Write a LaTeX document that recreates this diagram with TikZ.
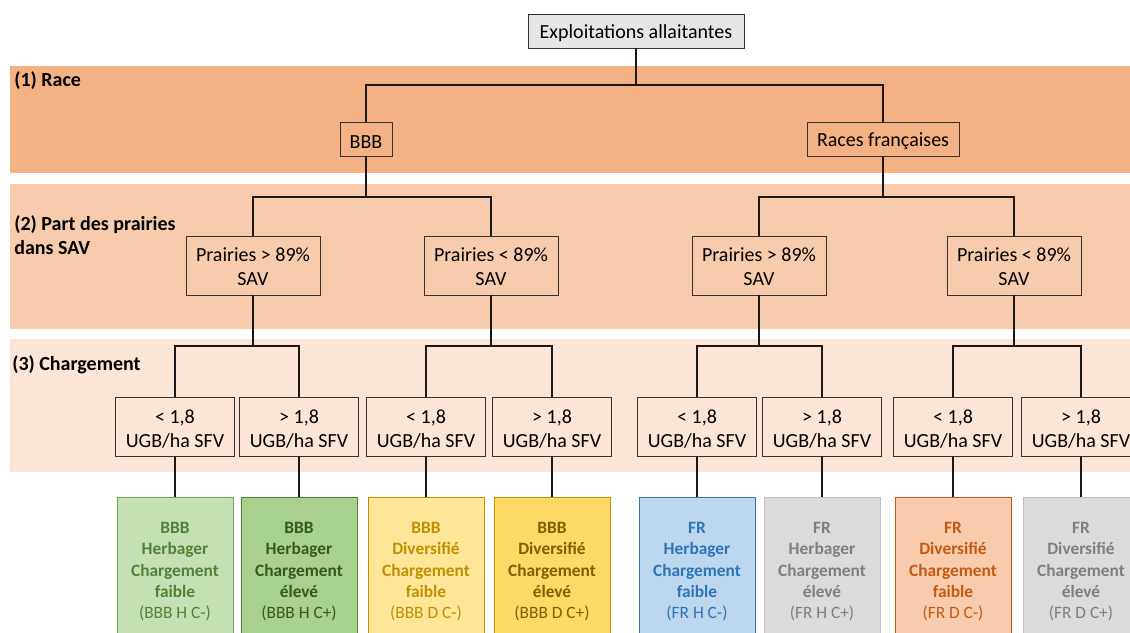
\documentclass[tikz,border=0pt]{standalone}
\usepackage{fontspec}
\setmainfont{Carlito}
\usetikzlibrary{positioning}
\definecolor{bandrace}{HTML}{F4B183}
\definecolor{bandprai}{HTML}{F8CBAD}
\definecolor{bandchg}{HTML}{FBE5D6}
\definecolor{rootfill}{HTML}{E7E6E6}
\definecolor{edgeink}{RGB}{50,50,50}
\definecolor{bhffill}{HTML}{C5E0B4}
\definecolor{bhfedge}{HTML}{70AD47}
\definecolor{bhftext}{HTML}{548235}
\definecolor{bhefill}{HTML}{A9D18E}
\definecolor{bheedge}{HTML}{548235}
\definecolor{bhetext}{HTML}{385723}
\definecolor{bdffill}{HTML}{FFE699}
\definecolor{bdfedge}{HTML}{BF9000}
\definecolor{bdftext}{HTML}{BF9000}
\definecolor{bdefill}{HTML}{FFD966}
\definecolor{bdeedge}{HTML}{BF9000}
\definecolor{bdetext}{HTML}{7F6000}
\definecolor{fhffill}{HTML}{BDD7EE}
\definecolor{fhfedge}{HTML}{2E75B6}
\definecolor{fhftext}{HTML}{2E75B6}
\definecolor{grayfill}{HTML}{DBDBDB}
\definecolor{grayedge}{HTML}{BFBFBF}
\definecolor{graytext}{HTML}{7F7F7F}
\definecolor{fdffill}{HTML}{F8CBAD}
\definecolor{fdfedge}{HTML}{C55A11}
\definecolor{fdftext}{HTML}{C55A11}
\newcommand\toplift[1]{\rule{0pt}{#1}}
\tikzset{
  lvbox/.style={
    draw=edgeink, line width=0.6pt, align=center, inner sep=0pt,
    font=\fontsize{15}{18}\selectfont
  },
  root/.style={lvbox, fill=rootfill, minimum width=162pt, minimum height=25.5pt,
    execute at begin node={\toplift{0.9em}}},
  race/.style={lvbox, minimum height=25.5pt, execute at begin node={\toplift{0.9em}}},
  prai/.style={lvbox, minimum width=100.5pt, minimum height=44.25pt},
  chg/.style={lvbox, minimum width=89.25pt, minimum height=44.25pt},
  typo/.style={
    line width=0.75pt, align=center, inner sep=0pt,
    minimum width=87pt, minimum height=108pt,
    font=\bfseries\fontsize{13}{16}\selectfont
  },
  bhf/.style={typo, fill=bhffill, draw=bhfedge, text=bhftext},
  bhe/.style={typo, fill=bhefill, draw=bheedge, text=bhetext},
  bdf/.style={typo, fill=bdffill, draw=bdfedge, text=bdftext},
  bde/.style={typo, fill=bdefill, draw=bdeedge, text=bdetext},
  fhf/.style={typo, fill=fhffill, draw=fhfedge, text=fhftext},
  fhe/.style={typo, fill=grayfill, draw=grayedge, text=graytext},
  fdf/.style={typo, fill=fdffill, draw=fdfedge, text=fdftext},
  fde/.style={typo, fill=grayfill, draw=grayedge, text=graytext},
  band/.style={font=\bfseries\fontsize{15}{18}\selectfont, align=left, inner sep=0pt, anchor=west},
  conn/.style={draw=black!90, line width=0.8pt}
}

\begin{document}
\begin{tikzpicture}[x=0.75pt, y=-0.75pt]
  \useasboundingbox (0,0) rectangle (1130,632);
  % bands
  \fill[bandrace] (10,66) rectangle (1130,173);
  \fill[bandprai] (10,184) rectangle (1130,329);
  \fill[bandchg] (10,339) rectangle (1130,472);
  \node[band] (lab1) at (14,81) {(1) Race};
  \node[band] (lab2) at (14,235) {(2) Part des prairies\\dans SAV};
  \node[band] (lab3) at (12,365) {(3) Chargement};
  % tree
  \node[root] (root) at (636,31) {Exploitations allaitantes};
  \node[race, minimum width=39pt] (bbb) at (366,139) {BBB};
  \node[race, minimum width=114pt] (rfr) at (883,139) {Races françaises};
  \node[prai] (p1) at (253,265.5) {\toplift{0.85em}Prairies > 89\%\\SAV};
  \node[prai] (p2) at (491,265.5) {\toplift{0.85em}Prairies < 89\%\\SAV};
  \node[prai] (p3) at (759,265.5) {\toplift{0.85em}Prairies > 89\%\\SAV};
  \node[prai] (p4) at (1014,265.5) {\toplift{0.85em}Prairies < 89\%\\SAV};
  \foreach \i/\x/\s in {1/175/<,2/299/>,3/426/<,4/552/>,5/697/<,6/822/>,7/953/<,8/1081/>}
    \node[chg] (c\i) at (\x,426.5) {\toplift{0.93em}\s{} 1,8\\UGB/ha SFV};
  \node[bhf] (r1) at (175,569) {\toplift{0.95em}BBB\\Herbager\\Chargement\\faible\\{\mdseries(BBB H C-)}};
  \node[bhe] (r2) at (299,569) {\toplift{0.95em}BBB\\Herbager\\Chargement\\élevé\\{\mdseries(BBB H C+)}};
  \node[bdf] (r3) at (426,569) {\toplift{0.95em}BBB\\Diversifié\\Chargement\\faible\\{\mdseries(BBB D C-)}};
  \node[bde] (r4) at (552,569) {\toplift{0.95em}BBB\\Diversifié\\Chargement\\élevé\\{\mdseries(BBB D C+)}};
  \node[fhf] (r5) at (697,569) {\toplift{0.95em}FR\\Herbager\\Chargement\\faible\\{\mdseries(FR H C-)}};
  \node[fhe] (r6) at (822,569) {\toplift{0.95em}FR\\Herbager\\Chargement\\élevé\\{\mdseries(FR H C+)}};
  \node[fdf] (r7) at (953,569) {\toplift{0.95em}FR\\Diversifié\\Chargement\\faible\\{\mdseries(FR D C-)}};
  \node[fde] (r8) at (1081,569) {\toplift{0.95em}FR\\Diversifié\\Chargement\\élevé\\{\mdseries(FR D C+)}};
  % junctions
  \coordinate (j0) at (636,85);
  \coordinate (j1) at (366,197);
  \coordinate (j2) at (883,197);
  \coordinate (k1) at (253,346);
  \coordinate (k2) at (491,346);
  \coordinate (k3) at (759,346);
  \coordinate (k4) at (1014,346);
  % connectors
  \draw[conn] (root) -- (j0);
  \draw[conn] (bbb.north) |- (j0) -| (rfr.north);
  \draw[conn] (bbb) -- (j1);
  \draw[conn] (p1.north) |- (j1) -| (p2.north);
  \draw[conn] (rfr) -- (j2);
  \draw[conn] (p3.north) |- (j2) -| (p4.north);
  \draw[conn] (p1) -- (k1);
  \draw[conn] (c1.north) |- (k1) -| (c2.north);
  \draw[conn] (p2) -- (k2);
  \draw[conn] (c3.north) |- (k2) -| (c4.north);
  \draw[conn] (p3) -- (k3);
  \draw[conn] (c5.north) |- (k3) -| (c6.north);
  \draw[conn] (p4) -- (k4);
  \draw[conn] (c7.north) |- (k4) -| (c8.north);
  \foreach \i in {1,...,8}
    \draw[conn] (c\i) -- (r\i);
\end{tikzpicture}
\end{document}
